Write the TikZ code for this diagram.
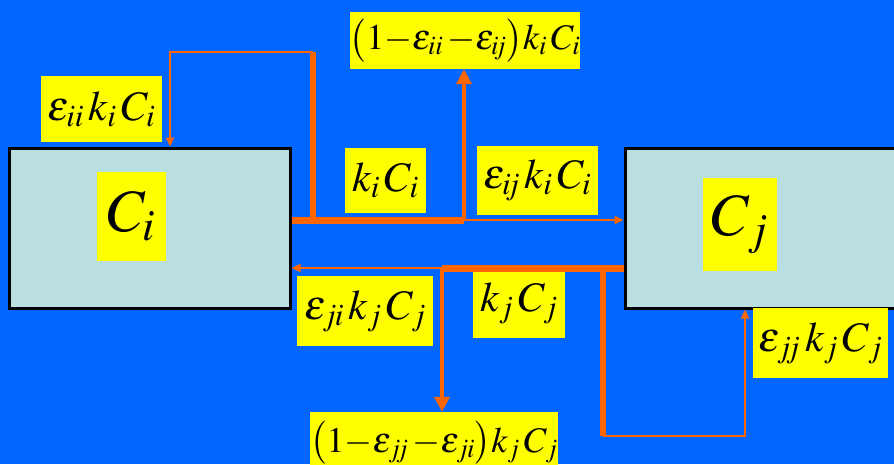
\documentclass[tikz,border=0pt]{standalone}
\usepackage{mathptmx}
\usetikzlibrary{arrows.meta}
\definecolor{bgblue}{RGB}{0,102,255}
\definecolor{flowcol}{RGB}{255,102,0}
\definecolor{poolfill}{RGB}{185,223,225}
\definecolor{tagfill}{RGB}{255,255,0}
\tikzset{
  poolbox/.style={draw=black, line width=3pt, fill=poolfill, inner sep=0pt},
  tag/.style={fill=tagfill, inner sep=0pt, font=\fontsize{42}{46}\selectfont},
  widetag/.style={fill=tagfill, inner sep=0pt, font=\fontsize{36}{40}\selectfont},
  bigtag/.style={fill=tagfill, inner sep=0pt, font=\fontsize{60}{64}\selectfont},
  heavyflow/.style={draw=flowcol, line width=7pt},
  riserflow/.style={draw=flowcol, line width=6pt},
  midflow/.style={draw=flowcol, line width=4pt, -{Triangle[length=15pt,width=15pt]}},
  thinflow/.style={draw=flowcol, line width=2.5pt, line join=miter, -{Triangle[length=9pt,width=8pt]}},
}
% tight minus and small gaps, as in the equation editor output
\newcommand{\tm}{{-}}
\newcommand{\gp}{\mkern2mu}
\newcommand{\sij}{i\mkern-3mu j}
\newcommand{\sjj}{j\mkern-3mu j}
\newcommand{\sji}{j\mkern-1mu i}
\begin{document}
\begin{tikzpicture}[x=1pt,y=-1pt]
  % canvas
  \fill[bgblue] (0,0) rectangle (894,464);
  \useasboundingbox (0,0) rectangle (894,464);

  % the two pools
  \node[poolbox, minimum width=281pt, minimum height=160pt] (ci) at (149.5,228) {};
  \node[poolbox, minimum width=281pt, minimum height=160pt] (cj) at (765.5,228) {};

  % labels
  \node[bigtag, minimum width=69pt, minimum height=89pt] (lci) at (131.5,216.5) {$C_i$};
  \node[bigtag, minimum width=74pt, minimum height=93pt] (lcj) at (740,224.5) {$C_j$};
  \node[tag, minimum width=121pt, minimum height=66pt] (leii) at (101.5,109) {$\varepsilon_{ii}\gp k_i\gp C_i$};
  \node[widetag, minimum width=224pt, minimum height=57pt] (ltop) at (465,40.5) {$\bigl(1\tm\varepsilon_{ii}\gp\tm\varepsilon_{\sij}\bigr)k_i\gp C_i$};
  \node[tag, minimum width=81pt, minimum height=65pt] (lki) at (385.5,180.5) {$k_i\gp C_i$};
  \node[tag, minimum width=121pt, minimum height=69pt] (leij) at (537.5,180.5) {$\varepsilon_{\sij}\gp k_i\gp C_i$};
  \node[tag, minimum width=136pt, minimum height=70pt] (leji) at (365,311) {$\varepsilon_{\sji}\gp k_j\gp C_j$};
  \node[tag, minimum width=92pt, minimum height=70pt] (lkj) at (519,303) {$k_j\gp C_j$};
  \node[widetag, minimum width=242pt, minimum height=62pt] (lbot) at (434,443) {$\bigl(1\tm\varepsilon_{\sjj}\gp\tm\varepsilon_{\sji}\bigr)k_j\gp C_j$};
  \node[tag, minimum width=135pt, minimum height=70pt] (lejj) at (820.5,343) {$\varepsilon_{\sjj}\gp k_j\gp C_j$};

  % junctions of the outflow from C_i
  \coordinate (ri) at (313,220);
  \coordinate (si) at (464,220);
  \coordinate (ti) at (313,52);
  \coordinate (ui) at (170,52);
  % junctions of the outflow from C_j
  \coordinate (sj) at (442,268);
  \coordinate (rj) at (603,268);
  \coordinate (tj) at (603,436);
  \coordinate (uj) at (745,436);

  % outflow of C_i
  \draw[riserflow] (ri) -- (ti);
  \draw[thinflow] (ti) -- (ui) -- (ui |- ci.north);
  \draw[heavyflow] (ci.east |- si) -- (si);
  \draw[midflow] (si) -- (si |- ltop.south);
  \draw[thinflow] (si) -- (si -| cj.west);

  % outflow of C_j
  \draw[riserflow] (rj) -- (tj);
  \draw[thinflow] (tj) -- (uj) -- (uj |- cj.south);
  \draw[heavyflow] (cj.west |- sj) -- (sj);
  \draw[midflow] (sj) -- (sj |- lbot.north);
  \draw[thinflow] (sj) -- (sj -| ci.east);
\end{tikzpicture}
\end{document}
